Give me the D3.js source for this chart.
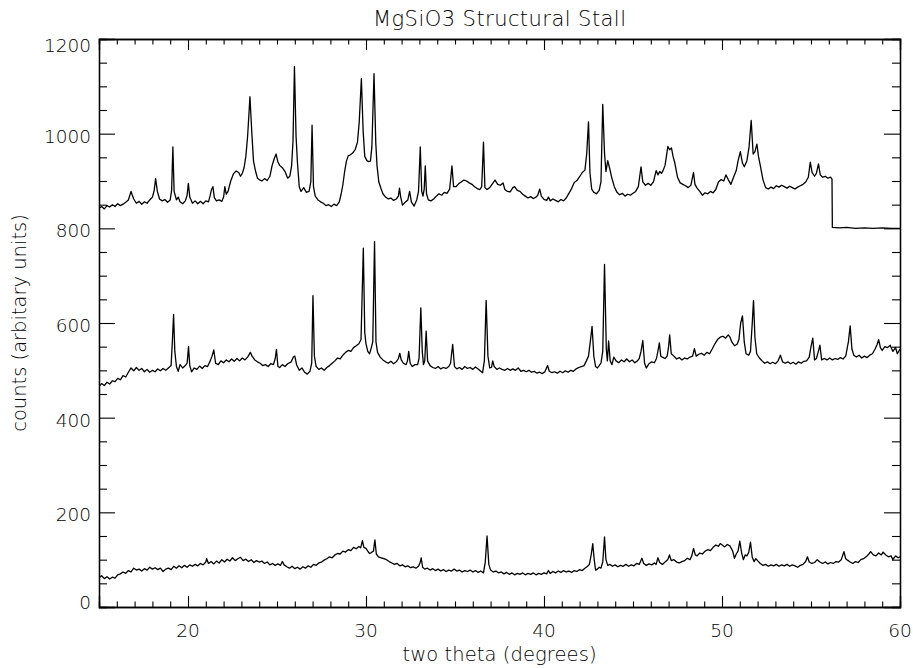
<!DOCTYPE html>
<html>
<head>
<meta charset="utf-8">
<title>MgSiO3 Structural Stall</title>
<style>
  body { margin: 0; background: #fff; }
  svg { display: block; }
  text { font-family: "DejaVu Sans", "Liberation Sans", sans-serif; font-weight: 200; fill: #000; }
  .domain { stroke: #000; }
  .tick line { stroke: #000; }
</style>
</head>
<body>
<svg></svg>
<script src="https://d3js.org/d3.v7.min.js"></script>
<script>
// two theta (deg) / counts
const topRun = [
  [15.0,843],[15.15,846],[15.3,841],[15.45,848],[15.6,845],[15.75,850],[15.9,846],[16.05,852],[16.2,848],[16.35,851],
  [16.5,855],[16.65,860],[16.8,878],[16.95,862],[17.1,853],[17.25,857],[17.4,851],[17.55,856],[17.7,853],[17.85,860],
  [18.0,866],[18.1,880],[18.18,905],[18.28,878],[18.4,862],[18.55,858],[18.7,861],[18.85,855],[19.0,860],[19.08,880],
  [19.15,972],[19.22,878],[19.35,860],[19.45,866],[19.55,856],[19.7,852],[19.85,858],[19.95,870],[20.02,895],[20.1,866],
  [20.25,853],[20.4,858],[20.55,852],[20.7,857],[20.85,852],[21.0,858],[21.15,856],[21.25,870],[21.32,882],[21.4,888],
  [21.48,865],[21.6,858],[21.75,860],[21.9,857],[22.0,866],[22.07,888],[22.15,872],[22.25,878],[22.4,900],[22.55,915],
  [22.7,921],[22.85,918],[22.95,910],[23.05,916],[23.15,928],[23.25,952],[23.35,995],[23.48,1078],[23.58,1005],[23.68,942],
  [23.8,920],[23.9,906],[24.0,903],[24.15,900],[24.3,905],[24.45,901],[24.6,910],[24.72,932],[24.85,948],[24.95,957],
  [25.05,940],[25.15,933],[25.3,928],[25.45,920],[25.6,906],[25.72,910],[25.82,932],[25.9,985],[25.98,1142],[26.07,995],
  [26.15,938],[26.25,888],[26.35,878],[26.5,886],[26.65,876],[26.8,878],[26.9,898],[26.97,1018],[27.05,888],[27.15,868],
  [27.3,860],[27.45,856],[27.6,853],[27.75,848],[27.9,850],[28.05,846],[28.2,851],[28.35,848],[28.5,856],[28.6,872],
  [28.7,892],[28.8,920],[28.9,942],[29.0,953],[29.1,955],[29.25,959],[29.4,967],[29.52,982],[29.62,1025],[29.74,1116],
  [29.84,1005],[29.93,952],[30.05,943],[30.15,941],[30.25,942],[30.33,972],[30.45,1127],[30.55,980],[30.62,932],[30.72,898],
  [30.85,883],[30.95,873],[31.1,866],[31.25,862],[31.4,864],[31.55,859],[31.7,862],[31.82,868],[31.88,885],[31.95,866],
  [32.05,849],[32.2,855],[32.35,860],[32.45,878],[32.55,856],[32.7,847],[32.85,860],[32.95,878],[33.05,972],[33.13,878],
  [33.2,868],[33.27,883],[33.33,932],[33.4,873],[33.5,860],[33.65,858],[33.8,862],[33.95,868],[34.1,873],[34.25,870],
  [34.4,876],[34.55,874],[34.7,883],[34.83,932],[34.92,888],[35.05,888],[35.2,894],[35.35,898],[35.5,902],[35.65,900],
  [35.8,896],[35.95,893],[36.1,888],[36.25,884],[36.4,882],[36.5,888],[36.6,982],[36.68,886],[36.8,882],[36.95,886],
  [37.1,894],[37.25,902],[37.4,893],[37.55,891],[37.7,896],[37.8,882],[37.95,878],[38.1,877],[38.25,886],[38.35,888],
  [38.5,880],[38.65,878],[38.8,872],[38.95,868],[39.1,864],[39.25,867],[39.4,863],[39.55,866],[39.65,870],[39.76,883],
  [39.85,868],[40.0,861],[40.15,859],[40.25,866],[40.35,858],[40.5,862],[40.65,859],[40.8,856],[40.95,861],[41.1,858],
  [41.25,864],[41.4,874],[41.55,884],[41.7,897],[41.85,901],[42.0,909],[42.15,918],[42.3,923],[42.4,958],[42.5,1025],
  [42.58,918],[42.68,883],[42.8,876],[42.95,873],[43.1,880],[43.2,898],[43.3,1062],[43.4,958],[43.48,920],[43.58,943],
  [43.68,928],[43.8,908],[43.95,888],[44.1,876],[44.25,871],[44.4,874],[44.55,868],[44.7,872],[44.85,870],[45.0,874],
  [45.15,878],[45.3,888],[45.45,930],[45.55,898],[45.7,891],[45.85,895],[46.0,891],[46.15,898],[46.3,922],[46.4,913],
  [46.5,920],[46.6,916],[46.7,923],[46.8,933],[46.9,958],[46.96,973],[47.06,966],[47.16,970],[47.25,952],[47.35,938],
  [47.5,908],[47.65,896],[47.8,893],[47.95,890],[48.1,886],[48.25,891],[48.4,918],[48.48,893],[48.6,885],[48.75,878],
  [48.9,870],[49.05,875],[49.2,873],[49.35,878],[49.5,875],[49.65,882],[49.8,898],[49.95,903],[50.1,900],[50.22,913],
  [50.35,903],[50.5,893],[50.65,908],[50.8,922],[50.9,942],[51.03,962],[51.15,938],[51.25,930],[51.4,943],[51.52,972],
  [51.64,1028],[51.75,957],[51.85,962],[51.96,978],[52.05,952],[52.15,933],[52.3,903],[52.45,886],[52.6,883],[52.75,887],
  [52.9,884],[53.05,890],[53.2,887],[53.35,891],[53.5,888],[53.65,885],[53.8,889],[53.95,886],[54.1,883],[54.25,887],
  [54.4,890],[54.55,893],[54.7,898],[54.85,908],[54.96,940],[55.06,918],[55.2,910],[55.3,916],[55.42,936],[55.52,913],
  [55.65,908],[55.8,910],[55.95,906],[56.1,908],[56.18,904],[56.2,802],[56.6,801],[57.0,802],[57.5,800],[58.0,801],
  [58.5,800],[59.0,801],[59.5,800],[60.0,800]
];

const midRun = [
  [15.0,466],[15.15,472],[15.3,468],[15.45,475],[15.6,471],[15.75,478],[15.9,476],[16.05,483],[16.2,480],[16.35,489],
  [16.5,486],[16.65,496],[16.8,505],[16.95,499],[17.1,506],[17.25,500],[17.4,504],[17.55,497],[17.7,502],[17.85,496],
  [18.0,500],[18.15,497],[18.3,503],[18.45,499],[18.6,504],[18.75,500],[18.9,505],[19.05,510],[19.12,560],[19.19,618],
  [19.26,540],[19.35,508],[19.45,498],[19.55,512],[19.7,505],[19.85,510],[19.95,515],[20.03,550],[20.1,510],[20.2,497],
  [20.35,505],[20.5,502],[20.65,509],[20.8,504],[20.95,510],[21.1,508],[21.25,520],[21.35,530],[21.45,543],[21.55,515],
  [21.7,512],[21.85,520],[22.0,516],[22.15,522],[22.3,518],[22.45,524],[22.6,519],[22.75,525],[22.9,520],[23.05,526],
  [23.2,522],[23.35,528],[23.5,538],[23.6,530],[23.75,522],[23.9,518],[24.05,515],[24.2,510],[24.35,512],[24.5,508],
  [24.65,514],[24.8,512],[24.9,525],[24.97,544],[25.05,508],[25.15,506],[25.3,512],[25.45,508],[25.6,514],[25.8,518],
  [25.92,528],[26.0,530],[26.1,512],[26.25,500],[26.4,505],[26.55,496],[26.7,492],[26.85,498],[26.95,515],[27.02,658],
  [27.1,530],[27.2,508],[27.35,502],[27.5,505],[27.65,500],[27.8,506],[27.95,510],[28.1,515],[28.25,520],[28.4,526],
  [28.55,524],[28.7,532],[28.85,538],[29.0,542],[29.15,540],[29.3,548],[29.45,552],[29.6,556],[29.72,565],[29.85,758],
  [29.93,580],[30.0,556],[30.1,540],[30.2,535],[30.3,548],[30.38,560],[30.48,772],[30.56,560],[30.65,538],[30.8,528],
  [30.95,522],[31.1,518],[31.25,515],[31.4,519],[31.55,514],[31.7,518],[31.82,525],[31.9,536],[31.98,522],[32.1,515],
  [32.25,512],[32.33,520],[32.4,540],[32.48,515],[32.6,508],[32.75,512],[32.9,512],[32.98,525],[33.08,632],[33.16,540],
  [33.23,512],[33.3,520],[33.38,583],[33.46,520],[33.6,510],[33.75,506],[33.9,504],[34.05,508],[34.2,503],[34.35,506],
  [34.5,504],[34.65,508],[34.75,515],[34.87,555],[34.97,508],[35.1,503],[35.25,506],[35.4,502],[35.55,508],[35.7,504],
  [35.85,506],[36.0,502],[36.15,507],[36.3,503],[36.45,498],[36.55,495],[36.65,520],[36.75,648],[36.85,530],[36.95,505],
  [37.05,506],[37.12,520],[37.2,508],[37.35,502],[37.5,505],[37.65,502],[37.8,500],[37.95,504],[38.1,500],[38.25,503],
  [38.4,500],[38.55,505],[38.7,498],[38.85,500],[39.0,497],[39.15,500],[39.3,496],[39.45,498],[39.6,494],[39.75,496],
  [39.9,493],[40.05,497],[40.2,510],[40.3,498],[40.45,495],[40.6,497],[40.75,494],[40.9,498],[41.05,495],[41.2,499],
  [41.35,496],[41.5,500],[41.65,498],[41.8,503],[41.95,506],[42.1,508],[42.25,510],[42.38,520],[42.5,530],[42.6,560],
  [42.7,593],[42.8,530],[42.9,508],[43.0,505],[43.1,510],[43.2,515],[43.3,540],[43.4,724],[43.5,545],[43.56,520],
  [43.63,562],[43.72,520],[43.82,512],[43.92,528],[44.05,520],[44.2,516],[44.35,522],[44.5,518],[44.65,524],[44.8,518],
  [44.95,522],[45.1,516],[45.25,520],[45.35,525],[45.45,540],[45.55,563],[45.65,515],[45.75,505],[45.9,514],[46.05,518],
  [46.2,516],[46.32,525],[46.42,545],[46.48,558],[46.56,530],[46.65,528],[46.8,525],[46.92,530],[47.0,550],[47.06,575],
  [47.15,535],[47.3,530],[47.45,524],[47.6,527],[47.75,522],[47.9,526],[48.05,524],[48.2,528],[48.35,530],[48.45,546],
  [48.55,530],[48.7,534],[48.85,536],[49.0,532],[49.15,538],[49.3,535],[49.45,545],[49.6,556],[49.75,565],[49.9,570],
  [50.05,572],[50.2,568],[50.35,575],[50.45,570],[50.55,560],[50.7,552],[50.85,555],[50.95,565],[51.05,600],[51.15,615],
  [51.25,560],[51.35,535],[51.5,532],[51.6,540],[51.7,600],[51.77,648],[51.85,570],[51.95,535],[52.1,526],[52.25,520],
  [52.4,515],[52.55,518],[52.7,514],[52.85,517],[53.0,514],[53.15,520],[53.28,532],[53.4,518],[53.55,515],[53.7,518],
  [53.85,514],[54.0,517],[54.15,513],[54.3,518],[54.45,515],[54.6,519],[54.75,520],[54.9,528],[55.0,550],[55.1,568],
  [55.2,522],[55.3,525],[55.4,538],[55.5,553],[55.6,522],[55.75,525],[55.9,522],[56.05,526],[56.2,522],[56.35,525],
  [56.5,523],[56.65,527],[56.8,524],[56.95,530],[57.1,560],[57.2,594],[57.3,545],[57.4,532],[57.55,528],[57.7,532],
  [57.85,526],[58.0,530],[58.15,527],[58.3,532],[58.45,535],[58.6,545],[58.72,555],[58.8,565],[58.9,548],[59.0,542],
  [59.15,550],[59.3,548],[59.45,553],[59.6,540],[59.75,548],[59.85,535],[60.0,545]
];

const lowRun = [
  [15.0,62],[15.15,66],[15.3,60],[15.45,64],[15.6,59],[15.75,63],[15.9,61],[16.05,68],[16.2,70],[16.35,74],
  [16.5,71],[16.65,77],[16.8,74],[16.95,82],[17.1,78],[17.25,80],[17.4,76],[17.55,81],[17.7,78],[17.85,84],
  [18.0,80],[18.15,83],[18.3,79],[18.45,82],[18.6,75],[18.75,80],[18.9,82],[19.05,79],[19.2,86],[19.35,82],
  [19.5,87],[19.65,83],[19.8,88],[19.95,84],[20.1,89],[20.25,86],[20.4,90],[20.55,87],[20.7,92],[20.85,89],
  [21.0,95],[21.05,102],[21.15,92],[21.3,96],[21.45,91],[21.6,97],[21.75,93],[21.9,100],[22.05,95],[22.2,101],
  [22.35,97],[22.5,104],[22.65,98],[22.8,102],[22.95,105],[23.1,98],[23.25,101],[23.4,96],[23.55,100],[23.7,94],
  [23.85,98],[24.0,95],[24.15,97],[24.3,92],[24.45,95],[24.6,89],[24.75,92],[24.9,88],[25.05,91],[25.2,88],
  [25.3,96],[25.4,89],[25.55,85],[25.7,82],[25.85,86],[26.0,81],[26.15,84],[26.3,80],[26.45,85],[26.6,82],
  [26.75,87],[26.9,84],[27.05,90],[27.2,88],[27.35,93],[27.5,95],[27.65,99],[27.8,102],[27.95,106],[28.1,104],
  [28.25,110],[28.4,113],[28.55,112],[28.7,118],[28.85,116],[29.0,121],[29.15,119],[29.3,126],[29.45,123],[29.6,128],
  [29.7,125],[29.8,140],[29.88,126],[30.0,124],[30.1,118],[30.2,113],[30.3,115],[30.42,118],[30.5,142],[30.58,112],
  [30.7,106],[30.85,104],[31.0,102],[31.15,100],[31.3,96],[31.45,93],[31.6,90],[31.75,92],[31.9,87],[32.05,89],
  [32.2,85],[32.35,87],[32.5,83],[32.65,85],[32.8,82],[32.95,86],[33.05,95],[33.1,104],[33.18,84],[33.3,80],
  [33.45,82],[33.6,78],[33.75,81],[33.9,77],[34.05,80],[34.2,76],[34.35,79],[34.5,75],[34.65,78],[34.8,76],
  [34.95,80],[35.1,76],[35.25,78],[35.4,74],[35.55,77],[35.7,75],[35.85,78],[36.0,74],[36.15,77],[36.3,73],
  [36.45,76],[36.6,72],[36.7,95],[36.8,150],[36.9,90],[37.0,78],[37.15,74],[37.3,76],[37.45,72],[37.6,74],
  [37.75,70],[37.9,73],[38.05,69],[38.2,72],[38.35,68],[38.5,71],[38.65,69],[38.8,72],[38.95,68],[39.1,71],
  [39.25,69],[39.4,72],[39.55,68],[39.7,71],[39.85,69],[40.0,72],[40.15,70],[40.25,77],[40.35,71],[40.5,75],
  [40.65,72],[40.8,76],[40.95,73],[41.1,77],[41.25,74],[41.4,76],[41.55,73],[41.7,77],[41.85,75],[42.0,79],
  [42.15,77],[42.3,82],[42.45,86],[42.55,90],[42.65,110],[42.74,134],[42.82,100],[42.9,78],[43.0,80],[43.1,84],
  [43.2,82],[43.3,95],[43.4,148],[43.48,100],[43.58,88],[43.7,90],[43.85,86],[44.0,89],[44.15,85],[44.3,88],
  [44.45,86],[44.6,90],[44.75,86],[44.9,89],[45.05,87],[45.2,92],[45.35,90],[45.5,103],[45.6,92],[45.75,88],
  [45.9,91],[46.05,89],[46.2,93],[46.3,90],[46.4,104],[46.5,94],[46.65,90],[46.8,95],[46.95,100],[47.05,110],
  [47.15,98],[47.3,100],[47.45,95],[47.6,93],[47.75,96],[47.9,98],[48.05,103],[48.2,100],[48.3,108],[48.4,124],
  [48.5,110],[48.6,108],[48.75,114],[48.9,112],[49.05,118],[49.2,121],[49.35,119],[49.5,126],[49.65,131],[49.8,128],
  [49.9,134],[50.05,130],[50.15,127],[50.3,132],[50.45,129],[50.6,118],[50.7,103],[50.8,112],[50.9,118],[51.0,139],
  [51.1,115],[51.2,100],[51.3,110],[51.4,108],[51.5,115],[51.6,137],[51.7,105],[51.8,96],[51.9,102],[52.0,98],
  [52.15,92],[52.3,88],[52.45,90],[52.6,86],[52.75,89],[52.9,87],[53.05,90],[53.2,86],[53.35,89],[53.5,87],
  [53.65,90],[53.8,86],[53.95,89],[54.1,87],[54.25,84],[54.4,88],[54.55,90],[54.7,96],[54.8,106],[54.9,95],
  [55.05,92],[55.2,94],[55.35,100],[55.5,95],[55.65,92],[55.8,95],[55.95,91],[56.1,94],[56.25,92],[56.4,96],
  [56.55,95],[56.7,100],[56.85,117],[56.95,102],[57.05,99],[57.2,95],[57.35,92],[57.5,96],[57.65,94],[57.8,100],
  [57.95,102],[58.1,106],[58.25,112],[58.35,117],[58.5,110],[58.65,108],[58.8,114],[58.95,110],[59.05,116],[59.2,110],
  [59.35,106],[59.5,108],[59.6,100],[59.75,108],[59.9,104],[60.0,106]
];

const xTickLabels = [20, 30, 40, 50, 60];
const yTickLabels = [0, 200, 400, 600, 800, 1000, 1200];

const width = 913, height = 668;
const margin = { top: 39, right: 13, bottom: 61, left: 99 };
const innerWidth = width - margin.left - margin.right;
const innerHeight = height - margin.top - margin.bottom;

const svg = d3.select('svg').attr('width', width).attr('height', height);

const xScale = d3.scaleLinear().domain([15, 60]).range([margin.left, width - margin.right]);
const yScale = d3.scaleLinear().domain([0, 1200]).range([height - margin.bottom, margin.top]);

svg.append('clipPath').attr('id', 'plot-clip')
  .append('rect')
  .attr('x', margin.left).attr('y', margin.top)
  .attr('width', innerWidth).attr('height', innerHeight);

// traces
const line = d3.line().x(d => xScale(d[0])).y(d => yScale(d[1]));
svg.append('g').attr('clip-path', 'url(#plot-clip)')
  .selectAll('path').data([topRun, midRun, lowRun]).enter().append('path')
  .attr('d', line)
  .attr('fill', 'none')
  .attr('stroke', '#000')
  .attr('stroke-width', 1.3)
  .attr('stroke-linejoin', 'round');

// ticks point inward on all four sides, like the IDL box
const xMinor = d3.range(15, 61, 1).filter(v => v % 10 !== 0);
const yMinor = d3.range(0, 1201, 50).filter(v => v % 200 !== 0);

const tickAxis = (axis, scale, values, len, tf) => {
  const a = svg.append('g').attr('transform', tf)
    .call(axis(scale).tickValues(values).tickSize(-len));
  a.selectAll('.tick text').remove();
  a.select('.domain').attr('stroke-width', 1.3);
  a.selectAll('.tick line').attr('stroke-width', 1.1);
  return a;
};
const bottomY = height - margin.bottom;
const rightX = width - margin.right;
tickAxis(d3.axisBottom, xScale, xTickLabels, 11, `translate(0,${bottomY})`);
tickAxis(d3.axisBottom, xScale, xMinor, 5.5, `translate(0,${bottomY})`);
tickAxis(d3.axisTop, xScale, xTickLabels, 11, `translate(0,${margin.top})`);
tickAxis(d3.axisTop, xScale, xMinor, 5.5, `translate(0,${margin.top})`);
tickAxis(d3.axisLeft, yScale, yTickLabels, 16, `translate(${margin.left},0)`);
tickAxis(d3.axisLeft, yScale, yMinor, 8, `translate(${margin.left},0)`);
tickAxis(d3.axisRight, yScale, yTickLabels, 16, `translate(${rightX},0)`);
tickAxis(d3.axisRight, yScale, yMinor, 8, `translate(${rightX},0)`);

// tick labels (IDL keeps the end labels inside the axis span)
svg.append('g').selectAll('text').data(xTickLabels).enter().append('text')
  .attr('x', d => xScale(d))
  .attr('y', bottomY + 30)
  .attr('text-anchor', 'middle')
  .attr('font-size', 18.5)
  .text(d => d);

svg.append('g').selectAll('text').data(yTickLabels).enter().append('text')
  .attr('y', d => Math.min(Math.max(yScale(d) + 2, margin.top + 6), bottomY - 5) + 7)
  .attr('font-size', 18.5)
  .text(d => d)
  .attr('x', function () { return margin.left - 8 - this.getComputedTextLength(); });

// titles
svg.append('text')
  .attr('x', margin.left + innerWidth / 2)
  .attr('y', 26)
  .attr('text-anchor', 'middle')
  .attr('font-size', 21)
  .attr('textLength', 253)
  .attr('lengthAdjust', 'spacing')
  .text('MgSiO3 Structural Stall');

svg.append('text')
  .attr('x', margin.left + innerWidth / 2)
  .attr('y', 661)
  .attr('text-anchor', 'middle')
  .attr('font-size', 19.5)
  .attr('textLength', 194)
  .attr('lengthAdjust', 'spacing')
  .text('two theta (degrees)');

const yTitleX = 26, yTitleY = margin.top + innerHeight / 2;
svg.append('text')
  .attr('x', yTitleX)
  .attr('y', yTitleY)
  .attr('transform', `rotate(-90,${yTitleX},${yTitleY})`)
  .attr('text-anchor', 'middle')
  .attr('font-size', 19.5)
  .text('counts (arbitary units)');
</script>
</body>
</html>
